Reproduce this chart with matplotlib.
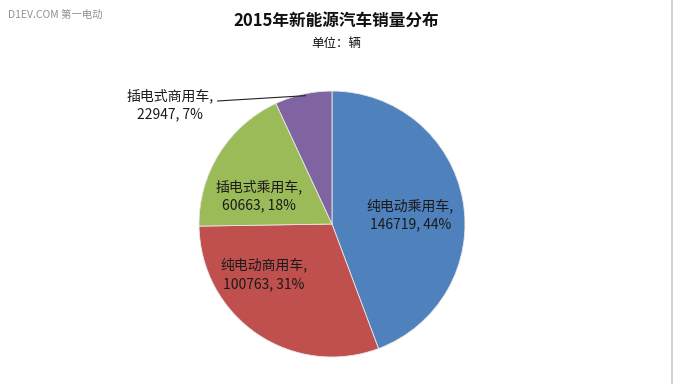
# -*- coding:utf-8 -*-
import matplotlib
matplotlib.use('Agg')
import matplotlib.pyplot as plt
from matplotlib.lines import Line2D

plt.rcParams['font.family'] = ['Noto Sans CJK SC', 'DejaVu Sans']

# 2015年新能源汽车销量（辆）
categories = [u'纯电动乘用车', u'纯电动商用车', u'插电式乘用车', u'插电式商用车']
sales = [146719, 100763, 60663, 22947]
pct_labels = ['44%', '31%', '18%', '7%']
colors = ['#4F81BD', '#C0504D', '#9BBB59', '#8064A2']

fig = plt.figure(figsize=(6.73, 3.84), dpi=100)

# 饼图区域：中心约(332,224)px，半径约133px
ax = fig.add_axes([0.2957, 0.0703, 0.3952, 0.6927])
wedges, _ = ax.pie(sales, colors=colors, startangle=90, counterclock=False,
                   radius=1.0, wedgeprops=dict(edgecolor='#e8e8e8', linewidth=0.6))
ax.set_xlim(-1, 1)
ax.set_ylim(-1, 1)
ax.set_aspect('equal')
ax.axis('off')

texts = ['{},\n{}, {}'.format(c, v, p) for c, v, p in zip(categories, sales, pct_labels)]
# 标签位置（数据坐标）
pos = [(0.59, 0.07), (-0.51, -0.38), (-0.55, 0.21), (-1.22, 0.895)]
for t, (x, y) in zip(texts, pos):
    ax.text(x, y, t, ha='center', va='center', fontsize=10, color='#1a1a1a',
            linespacing=1.4)

# 插电式商用车引线
ax.add_line(Line2D([-0.86, -0.20], [0.925, 0.965], color='#222222', linewidth=0.8,
                   clip_on=False))

fig.text(0.5, 0.945, u'2015年新能源汽车销量分布', ha='center', va='center',
         fontsize=12, fontweight='bold', color='#111111')
fig.text(0.5, 0.888, u'单位：辆', ha='center', va='center', fontsize=9, color='#111111')
fig.text(0.012, 0.962, u'D1EV.COM 第一电动', ha='left', va='center', fontsize=7.5,
         color='#909090')

fig.add_artist(Line2D([0.9985, 0.9985], [0, 1], color='#cccccc', linewidth=1.2,
                      transform=fig.transFigure))

plt.savefig('out.png', dpi=100)
